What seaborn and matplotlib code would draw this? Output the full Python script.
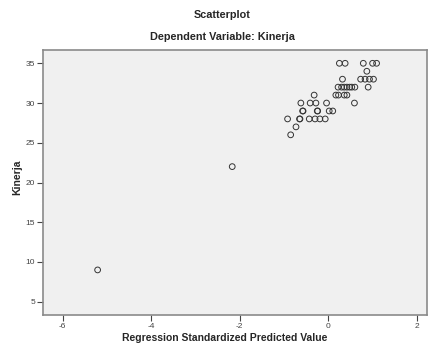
import matplotlib
matplotlib.use("Agg")
import matplotlib.pyplot as plt
import seaborn as sns
import pandas as pd

# Data (standardized predicted value vs Kinerja)
pred = [0.25, 0.38, 0.79, 1.00, 1.09,
        0.87,
        0.32, 0.73, 0.83, 0.93, 1.02,
        0.22, 0.30, 0.36, 0.42, 0.48, 0.53, 0.60, 0.90,
        -0.32, 0.17, 0.23, 0.36, 0.42,
        -0.62, -0.41, -0.28, -0.04, 0.59,
        -0.58, -0.57, -0.25, -0.24, 0.02, 0.10,
        -0.92, -0.65, -0.64, -0.43, -0.30, -0.19, -0.07,
        -0.73,
        -0.85,
        -2.17,
        -5.21]
kinerja = [35, 35, 35, 35, 35,
           34,
           33, 33, 33, 33, 33,
           32, 32, 32, 32, 32, 32, 32, 32,
           31, 31, 31, 31, 31,
           30, 30, 30, 30, 30,
           29, 29, 29, 29, 29, 29,
           28, 28, 28, 28, 28, 28, 28,
           27,
           26,
           22,
           9]
x_ticks = [-6, -4, -2, 0, 2]
y_ticks = [5, 10, 15, 20, 25, 30, 35]

df = pd.DataFrame({"pred": pred, "kinerja": kinerja})

sns.set_style("white")
plt.rcParams['font.family'] = ['Liberation Sans', 'DejaVu Sans']

fig = plt.figure(figsize=(4.28, 3.45), dpi=100)
ax = fig.add_axes([0.0998, 0.087, 0.898, 0.768])
ax.set_facecolor("#f0f0f0")

sns.scatterplot(data=df, x="pred", y="kinerja", ax=ax, marker="o",
                s=17, facecolor="none", edgecolor="#333333", linewidth=0.7)

ax.set_xlim(-6.45, 2.23)
ax.set_ylim(3.33, 36.67)
ax.set_xticks(x_ticks)
ax.set_yticks(y_ticks)
ax.set_xticklabels([str(t) for t in x_ticks])
ax.set_yticklabels([str(t) for t in y_ticks])
ax.tick_params(axis="both", direction="out", length=4, width=0.8,
               color="#444444", labelsize=6, labelcolor="#444444", pad=1.5,
               left=True, bottom=True)
for sp in ax.spines.values():
    sp.set_color("#8a8a8a")
    sp.set_linewidth(1.2)

ax.set_xlabel("")
ax.set_ylabel("")
fig.text(0.525, 1 - 338 / 345, "Regression Standardized Predicted Value",
         ha="center", va="center", fontsize=7.5, fontweight="bold")
fig.text(17 / 428, 1 - 177 / 345, "Kinerja", ha="center", va="center",
         rotation=90, fontsize=7.5, fontweight="bold")
fig.text(222 / 428, 1 - 15 / 345, "Scatterplot", ha="center", va="center",
         fontsize=7.8, fontweight="bold")
fig.text(222 / 428, 1 - 37 / 345, "Dependent Variable: Kinerja",
         ha="center", va="center", fontsize=7.8, fontweight="bold")

fig.savefig("out.png", dpi=100, facecolor="white")
